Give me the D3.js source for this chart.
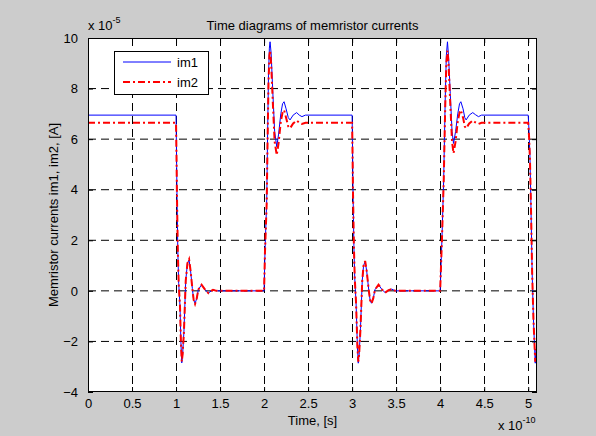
<!DOCTYPE html>
<html>
<head>
<meta charset="utf-8">
<script src="https://cdn.jsdelivr.net/npm/d3@7"></script>
<style>
body { margin: 0; background: #cccccc; }
text { font-family: "Liberation Sans", Arial, Helvetica, sans-serif; font-size: 13px; fill: #000; }
</style>
</head>
<body>
<div id="canvas"></div>
<script>
// ----------------------------------------------------------
// DATA -----------------------------------------------------
// ----------------------------------------------------------
// time in units of 1e-10 s, currents in units of 1e-5 A
var time = [
0, 1.0, 1.005, 1.01, 1.02, 1.03, 1.045, 1.055, 1.065, 1.075, 1.09, 1.11, 1.13, 1.148, 1.165, 1.185, 1.2, 1.216, 1.235, 1.253, 1.29, 1.33, 1.367, 1.40, 1.42, 1.46,
2.0, 2.01, 2.03, 2.04, 2.05, 2.06, 2.068, 2.08, 2.1, 2.12, 2.144, 2.165, 2.19, 2.21, 2.227, 2.25, 2.275, 2.295, 2.33, 2.37, 2.4, 2.43, 2.47,
3.0, 3.005, 3.01, 3.02, 3.03, 3.045, 3.06, 3.07, 3.08, 3.095, 3.115, 3.13, 3.148, 3.165, 3.19, 3.205, 3.22, 3.24, 3.26, 3.3, 3.34, 3.375, 3.41, 3.45, 3.49,
4.0, 4.02, 4.04, 4.057, 4.07, 4.083, 4.095, 4.115, 4.135, 4.152, 4.175, 4.2, 4.22, 4.235, 4.26, 4.28, 4.295, 4.33, 4.37, 4.4, 4.435, 4.47,
5.0, 5.01, 5.02, 5.03, 5.045, 5.06, 5.08, 5.09
];

var im1 = [
6.95, 6.95, 5.6, 4.0, 1.6, 0.3, -0.6, -2.0, -2.85, -2.5, -1.6, 0.4, 1.1, 1.22, 0.8, 0.1, -0.35, -0.5, -0.3, 0.05, 0.24, 0.05, -0.09, 0, 0.04, 0,
0, 1.5, 3.6, 6.2, 8.5, 9.6, 9.85, 9.4, 7.8, 6.3, 5.7, 6.2, 7.0, 7.4, 7.48, 7.2, 6.85, 6.76, 6.95, 7.05, 6.95, 6.89, 6.95,
6.95, 5.6, 4.0, 1.8, 0.5, -0.5, -2.2, -2.86, -2.5, -1.5, 0.4, 1.0, 1.16, 0.8, 0.0, -0.38, -0.49, -0.3, 0.05, 0.24, 0.05, -0.07, 0.02, 0.07, 0,
0, 2.0, 4.4, 7.5, 9.3, 9.85, 9.3, 7.8, 6.3, 5.83, 6.3, 7.0, 7.4, 7.48, 7.2, 6.85, 6.76, 6.95, 7.05, 6.97, 6.89, 6.95,
6.95, 6.3, 5.3, 3.6, 0.7, -1.15, -2.86, -2.3
];

var im2 = [
6.65, 6.65, 5.4, 3.9, 1.6, 0.3, -0.6, -2.0, -2.8, -2.5, -1.6, 0.4, 1.1, 1.25, 0.8, 0.1, -0.35, -0.52, -0.3, 0.05, 0.24, 0.05, -0.09, 0, 0.04, 0,
0, 1.5, 3.5, 6.0, 8.2, 9.3, 9.5, 9.0, 7.4, 5.9, 5.37, 5.85, 6.7, 7.05, 7.15, 6.85, 6.5, 6.43, 6.62, 6.74, 6.65, 6.6, 6.65,
6.65, 5.4, 3.9, 1.8, 0.5, -0.5, -2.2, -2.8, -2.5, -1.5, 0.4, 1.0, 1.18, 0.8, 0.0, -0.38, -0.5, -0.3, 0.05, 0.24, 0.05, -0.07, 0.02, 0.07, 0,
0, 2.0, 4.3, 7.2, 9.0, 9.5, 9.0, 7.4, 5.9, 5.44, 5.9, 6.7, 7.05, 7.15, 6.85, 6.5, 6.43, 6.62, 6.74, 6.66, 6.6, 6.65,
6.65, 6.1, 5.2, 3.6, 0.7, -1.15, -2.8, -2.3
];

var ticks_x = [0, 0.5, 1, 1.5, 2, 2.5, 3, 3.5, 4, 4.5, 5];
var ticks_y = [-4, -2, 0, 2, 4, 6, 8, 10];
var series_names = ["im1", "im2"];

var text_title = "Time diagrams of memristor currents";
var text_x = "Time, [s]";
var text_y = "Memristor currents im1, im2, [A]";

// ----------------------------------------------------------
// STRUCTURE ------------------------------------------------
// ----------------------------------------------------------
var W = 596, H = 436;
var plot = {left: 88, right: 537, top: 38, bottom: 392};

var svg = d3.select("#canvas").append("svg")
.attr("width", W)
.attr("height", H)
.style("display", "block");

svg.append("rect")
.attr("width", W)
.attr("height", H)
.style("fill", "#cccccc");

svg.append("defs").append("clipPath")
.attr("id", "clip")
.append("rect")
.attr("x", plot.left)
.attr("y", plot.top)
.attr("width", plot.right - plot.left)
.attr("height", plot.bottom - plot.top);

// plot area background
svg.append("rect")
.attr("x", plot.left)
.attr("y", plot.top)
.attr("width", plot.right - plot.left)
.attr("height", plot.bottom - plot.top)
.style("fill", "#fff");

// ----------------------------------------------------------
// SCALES ---------------------------------------------------
// ----------------------------------------------------------
var xScale = d3.scaleLinear()
.domain([0, 5.1])
.range([plot.left, plot.right]);

var yScale = d3.scaleLinear()
.domain([-4, 10])
.range([plot.bottom, plot.top]);

// ----------------------------------------------------------
// GRID -----------------------------------------------------
// ----------------------------------------------------------
var grid_group = svg.append("g").attr("class", "grid");

grid_group.selectAll(".gx")
.data(ticks_x.filter(function(d) { return d > 0; }))
.enter().append("line")
.attr("x1", function(d) { return Math.round(xScale(d)) + 0.5; })
.attr("x2", function(d) { return Math.round(xScale(d)) + 0.5; })
.attr("y1", plot.top)
.attr("y2", plot.bottom)
.style("stroke", "#000").style("stroke-width", 1).style("stroke-dasharray", "8,5");

grid_group.selectAll(".gy")
.data(ticks_y.filter(function(d) { return d > -4 && d < 10; }))
.enter().append("line")
.attr("x1", plot.left)
.attr("x2", plot.right)
.attr("y1", function(d) { return yScale(d); })
.attr("y2", function(d) { return yScale(d); })
.style("stroke", "#000").style("stroke-width", 1).style("stroke-dasharray", "8,5");

// ----------------------------------------------------------
// LINES ----------------------------------------------------
// ----------------------------------------------------------
var line = d3.line()
.x(function(d) { return xScale(d[0]); })
.y(function(d) { return yScale(d[1]); });

var lines_group = svg.append("g").attr("clip-path", "url(#clip)");

lines_group.append("path")
.datum(d3.zip(time, im1))
.attr("d", line)
.style("fill", "none").style("stroke", "#0000ff").style("stroke-width", 1);

lines_group.append("path")
.datum(d3.zip(time, im2))
.attr("d", line)
.style("fill", "none").style("stroke", "#ff0000").style("stroke-width", 2)
.style("stroke-dasharray", "7,3,2,3");

// ----------------------------------------------------------
// AXES -----------------------------------------------------
// ----------------------------------------------------------
function styleAxis(g) {
g.select(".domain").remove();
g.selectAll(".tick line").attr("stroke", "#000");
g.selectAll(".tick text").style("font-family", "'Liberation Sans', Arial, sans-serif").style("font-size", "13px").attr("fill", "#000");
}

svg.append("g")
.attr("transform", "translate(0," + plot.bottom + ")")
.call(d3.axisBottom(xScale).tickValues(ticks_x).tickSize(-5).tickPadding(7).tickFormat(d3.format("")))
.call(styleAxis);

svg.append("g")
.attr("transform", "translate(0," + plot.top + ")")
.call(d3.axisTop(xScale).tickValues(ticks_x).tickSize(-5).tickFormat(""))
.call(styleAxis);

svg.append("g")
.attr("transform", "translate(" + plot.left + ",0)")
.call(d3.axisLeft(yScale).tickValues(ticks_y).tickSize(-5).tickPadding(10).tickFormat(d3.format("")))
.call(styleAxis);

svg.append("g")
.attr("transform", "translate(" + plot.right + ",0)")
.call(d3.axisRight(yScale).tickValues(ticks_y).tickSize(-5).tickFormat(""))
.call(styleAxis);

// frame
svg.append("rect")
.attr("x", plot.left + 0.5)
.attr("y", plot.top + 0.5)
.attr("width", plot.right - plot.left - 1)
.attr("height", plot.bottom - plot.top - 1)
.style("fill", "none").style("stroke", "#000").style("stroke-width", 1);

// ----------------------------------------------------------
// LEGEND ---------------------------------------------------
// ----------------------------------------------------------
var legend = svg.append("g").attr("class", "legend");

legend.append("rect")
.attr("x", 114.5).attr("y", 51.5)
.attr("width", 94).attr("height", 43)
.style("fill", "#fff").style("stroke", "#000").style("stroke-width", 1);

var legend_styles = [
{color: "#0000ff", width: 1, dash: null},
{color: "#ff0000", width: 2, dash: "7,3,2,3"}
];

legend.selectAll(".item")
.data(series_names)
.enter().append("line")
.attr("x1", 123).attr("x2", 171)
.attr("y1", function(d, i) { return 62 + i * 20; })
.attr("y2", function(d, i) { return 62 + i * 20; })
.style("stroke", function(d, i) { return legend_styles[i].color; })
.style("stroke-width", function(d, i) { return legend_styles[i].width; })
.style("stroke-dasharray", function(d, i) { return legend_styles[i].dash; });

legend.selectAll(".label")
.data(series_names)
.enter().append("text")
.attr("x", 177)
.attr("y", function(d, i) { return 66.5 + i * 20; })
.text(function(d) { return d; });

// ----------------------------------------------------------
// TEXT -----------------------------------------------------
// ----------------------------------------------------------
svg.append("text")
.attr("x", (plot.left + plot.right) / 2)
.attr("y", 30)
.attr("text-anchor", "middle")
.text(text_title);

svg.append("text")
.attr("x", (plot.left + plot.right) / 2)
.attr("y", 425)
.attr("text-anchor", "middle")
.text(text_x);

svg.append("text")
.attr("transform", "translate(58," + ((plot.top + plot.bottom) / 2) + ") rotate(-90)")
.attr("text-anchor", "middle")
.text(text_y);

// exponent labels
var exp_y = svg.append("text").attr("x", plot.left).attr("y", 30);
exp_y.append("tspan").text("x 10");
exp_y.append("tspan").attr("dy", -7).style("font-size", "9px").text("-5");

var exp_x = svg.append("text").attr("x", 498).attr("y", 430);
exp_x.append("tspan").text("x 10");
exp_x.append("tspan").attr("dy", -7).style("font-size", "9px").text("-10");
</script>
</body>
</html>
